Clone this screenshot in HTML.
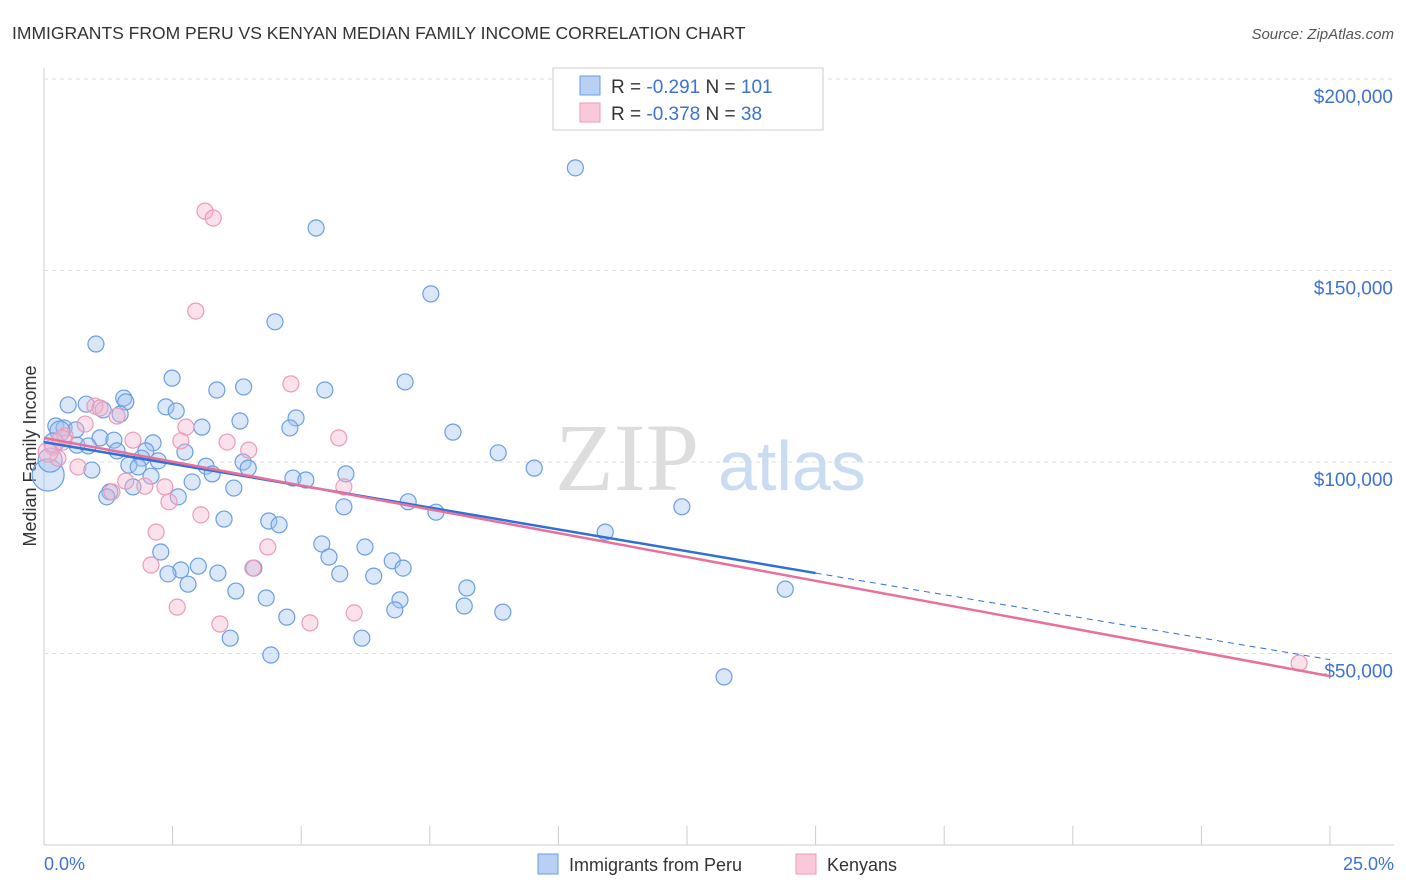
<!DOCTYPE html>
<html><head><meta charset="utf-8"><style>
body{margin:0;background:#fff;font-family:"Liberation Sans",sans-serif;}
#wrap{position:relative;width:1406px;height:892px;overflow:hidden;}
</style></head><body>
<div id="wrap">
<svg id="svg" width="1406" height="892" xmlns="http://www.w3.org/2000/svg">
<text x="12" y="39" font-size="17.5" fill="#333">IMMIGRANTS FROM PERU VS KENYAN MEDIAN FAMILY INCOME CORRELATION CHART</text>
<text x="1394" y="39" font-size="15" fill="#555" font-style="italic" text-anchor="end">Source: ZipAtlas.com</text>
<text x="36" y="456" font-size="18" fill="#333" text-anchor="middle" transform="rotate(-90 36 456)">Median Family Income</text>
<g id="grid"></g>
<text x="555" y="490" font-size="96" fill="#ddd" font-family="Liberation Serif,serif">ZIP</text>
<text x="718" y="490" font-size="70" fill="#c9dcf2">atlas</text>
<g id="marks"></g>
<g id="lines"></g>
<g>
<rect x="553" y="68" width="270" height="62" fill="#fff" stroke="#ccc"/>
<rect x="580" y="76" width="20" height="19" fill="#b7d0f3" stroke="#6b9ee0"/>
<rect x="580" y="103" width="20" height="19" fill="#f9c9d9" stroke="#ec9ab8"/>
<text x="611" y="93" font-size="19" fill="#333">R = <tspan fill="#3c72d4">-0.291</tspan>   N = <tspan fill="#3c72d4">101</tspan></text>
<text x="611" y="120" font-size="19" fill="#333">R = <tspan fill="#3c72d4">-0.378</tspan>   N =  <tspan fill="#3c72d4"> 38</tspan></text>
</g>
<g>
<rect x="538" y="854" width="20" height="20" fill="#b7d0f3" stroke="#6b9ee0"/>
<text x="569" y="871" font-size="18" fill="#333">Immigrants from Peru</text>
<rect x="796" y="854" width="20" height="20" fill="#f9c9d9" stroke="#ec9ab8"/>
<text x="827" y="871" font-size="18" fill="#333">Kenyans</text>
</g>
</svg>
</div>
<script>
const xTickLabels=["0.0%","25.0%"];
const yTicks=[50000,100000,150000,200000];
const yTickLabels=["$50,000","$100,000","$150,000","$200,000"];
const peruX=[10.33,5.29,7.52,4.49,1.01,2.49,7.02,3.36,3.88,5.46,1.55,1.59,0.47,0.82,2.37,2.57,1.15,1.48,4.90,3.81,3.07,4.78,7.95,0.23,0.39,0.62,1.09,1.36,2.12,0.64,0.86,1.42,1.98,2.74,8.83,1.90,2.22,3.87,1.65,1.83,3.15,3.97,9.53,0.93,3.27,5.87,2.08,4.84,5.09,2.88,3.69,1.73,1.28,2.61,1.22,7.08,5.83,12.40,7.62,3.50,4.37,4.57,10.91,5.40,6.24,2.27,5.54,6.77,6.98,3.00,2.66,2.41,3.38,4.08,5.75,6.41,2.80,8.22,14.41,3.73,4.32,6.92,8.17,6.82,8.92,4.72,3.62,6.18,4.41,13.22,0.08,0.12,0.31,0.19];
const peruY=[176.8,161.1,143.9,136.6,130.8,121.9,120.9,118.8,119.6,118.8,116.7,115.7,114.9,115.1,114.4,113.3,113.6,112.5,111.5,110.7,109.1,108.9,107.8,109.4,108.9,108.4,106.3,105.7,105.0,104.4,104.2,102.9,102.9,102.6,102.4,101.0,100.3,100.0,99.2,98.7,98.9,98.4,98.4,97.9,96.9,96.9,96.3,95.8,95.3,94.8,93.2,93.5,92.2,90.9,90.9,89.6,88.3,88.3,86.9,85.1,84.6,83.6,81.7,78.6,77.8,76.5,75.2,74.2,72.3,72.8,71.8,70.8,71.0,72.3,70.8,70.2,68.1,67.1,66.8,66.3,64.5,64.0,62.4,61.4,60.8,59.5,54.0,54.0,49.6,43.9,96.6,100.5,108.1,105.0];
const peruR=[8,8,8,8,8,8,8,8,8,8,8,8,8,8,8,8,8,8,8,8,8,8,8,8,8,8,8,8,8,8,8,8,8,8,8,8,8,8,8,8,8,8,8,8,8,8,8,8,8,8,8,8,8,8,8,8,8,8,8,8,8,8,8,8,8,8,8,8,8,8,8,8,8,8,8,8,8,8,8,8,8,8,8,8,8,8,8,8,8,8,16,12,10,10];
const kenX=[3.13,3.29,2.95,4.80,0.99,1.09,1.42,0.80,2.76,0.41,1.73,5.73,2.66,3.56,3.98,0.17,0.27,0.66,1.59,1.96,2.35,5.83,1.32,2.43,3.05,2.18,4.35,2.08,4.06,2.59,6.03,3.42,5.17,24.40,0.08,0.35];
const kenY=[165.5,163.7,139.4,120.4,114.6,114.1,112.0,109.9,109.1,106.8,105.7,106.3,105.5,105.2,103.1,103.9,101.0,98.7,95.0,93.7,93.5,93.5,92.2,89.6,86.2,81.7,77.8,73.1,72.3,62.1,60.6,57.7,58.0,47.5,102.6,105.7];
const peruTrendX=[0,15,25];
const peruTrendY=[105.2,71.0,48.4];
const kenTrendX=[0,25];
const kenTrendY=[106.3,44.1];
const NS="http://www.w3.org/2000/svg";
const x0=44,x1=1330,yBase=845,yPerK=191.5/50;
function sx(v){return x0+(v/25)*(x1-x0);}
function sy(k){return yBase-k*yPerK;}
function mk(t,a,p){const e=document.createElementNS(NS,t);for(const k in a)e.setAttribute(k,a[k]);p.appendChild(e);return e;}
const grid=document.getElementById('grid');
let ax=mk('line',{x1:44,y1:68,x2:44,y2:845,stroke:'#ccc'},grid);


let bx=mk('line',{x1:44,y1:845,x2:1394,y2:845,stroke:'#ccc'},grid);


for(let i=0;i<=10;i++){const t=mk('line',{x1:sx(i*2.5),y1:826,x2:sx(i*2.5),y2:845,stroke:'#ccc'},grid);

}
yTicks.forEach((v,i)=>{const y=sy(v/1000);
const g=mk('line',{x1:44,y1:y,x2:1394,y2:y,stroke:'#ddd','stroke-dasharray':'4,4'},grid);


const t=mk('text',{x:1393,y:y+24,'font-size':19,fill:'#3c72d4','text-anchor':'end'},grid);t.textContent=yTickLabels[i];

});
const l0=mk('text',{x:44,y:870,'font-size':18,fill:'#3c72d4'},grid);l0.textContent=xTickLabels[0];


const l1=mk('text',{x:1394,y:870,'font-size':18,fill:'#3c72d4','text-anchor':'end'},grid);l1.textContent=xTickLabels[1];


const marks=document.getElementById('marks');
peruX.forEach((v,i)=>{const c=mk('circle',{cx:sx(v),cy:sy(peruY[i]),r:peruR[i],fill:'rgba(160,195,240,0.4)',stroke:'#6b9ee0','stroke-width':1.2},marks);

});
kenX.forEach((v,i)=>{const c=mk('circle',{cx:sx(v),cy:sy(kenY[i]),r:i>=34?10:8,fill:'rgba(245,180,205,0.4)',stroke:'#ec9ab8','stroke-width':1.2},marks);

});
const lines=document.getElementById('lines');
const p1=mk('line',{x1:sx(peruTrendX[0]),y1:sy(peruTrendY[0]),x2:sx(peruTrendX[1]),y2:sy(peruTrendY[1]),stroke:'#2f6fd6','stroke-width':2.5},lines);


const p2=mk('line',{x1:sx(peruTrendX[1]),y1:sy(peruTrendY[1]),x2:sx(peruTrendX[2]),y2:sy(peruTrendY[2]),stroke:'#2f6fd6','stroke-width':1,'stroke-dasharray':'6,5'},lines);


const k1=mk('line',{x1:sx(kenTrendX[0]),y1:sy(kenTrendY[0]),x2:sx(kenTrendX[1]),y2:sy(kenTrendY[1]),stroke:'#e8709a','stroke-width':2.5},lines);


</script>
</body></html>
